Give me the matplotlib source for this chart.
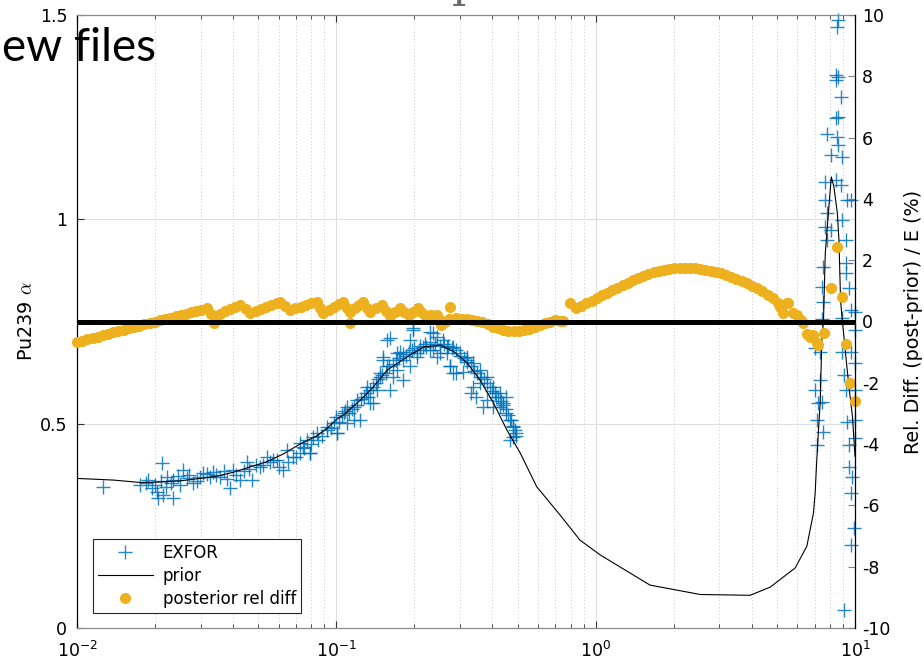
import matplotlib
matplotlib.use("Agg")
import matplotlib.pyplot as plt
from matplotlib.ticker import NullFormatter

plt.rcParams['font.family'] = ['DejaVu Sans']
plt.rcParams['axes.unicode_minus'] = False

# ---- EXFOR measurements of alpha (capture-to-fission ratio) ----
exfor_e = [
    0.0126, 0.0175, 0.0188, 0.0194, 0.0203, 0.0212, 0.0215, 0.0206, 0.0235, 0.0222,
    0.0235, 0.0257, 0.0265, 0.0281, 0.0298, 0.0316, 0.0336, 0.0356, 0.0389, 0.0400,
    0.0425, 0.0451, 0.0471, 0.0508, 0.0539, 0.0571, 0.0625, 0.0643, 0.0682, 0.0724,
    0.0768, 0.0791, 0.0839, 0.0920, 0.0976, 0.1005, 0.1066, 0.1098, 0.1165, 0.1236,
    0.1273, 0.135, 0.139, 0.147, 0.152, 0.157, 0.161, 0.171, 0.176, 0.181,
    0.192, 0.198, 0.204, 0.216, 0.229, 0.236, 0.244, 0.266, 0.275, 0.283,
    0.0185, 0.0200, 0.0210, 0.0220, 0.0230, 0.0245, 0.0250, 0.0270, 0.0290, 0.0305,
    0.0325, 0.0345, 0.0370, 0.0380, 0.0410, 0.0440, 0.0460, 0.0490, 0.0520, 0.0555,
    0.0590,
    0.161, 0.198, 0.229, 0.244, 0.192, 0.171, 0.152, 0.157, 0.147, 0.131,
    0.120, 0.110, 0.100, 0.092, 0.0815, 0.0747, 0.0724, 0.0791, 0.1005, 0.1165,
    0.135, 0.143, 0.166, 0.181, 0.204, 0.210, 0.236, 0.251, 0.266, 0.283,
    0.300, 0.318, 0.337, 0.358, 0.380, 0.403, 0.427, 0.440, 0.452, 0.466,
    0.479, 0.494, 0.479, 0.466, 0.275, 0.290, 0.307, 0.330, 0.345, 0.367,
    0.337, 0.414, 0.427, 0.452, 0.403, 0.380, 0.358, 0.318, 0.258, 0.222,
    0.0600, 0.0650, 0.0700, 0.0750, 0.0800, 0.0850, 0.0880, 0.0950, 0.1020, 0.1050,
    0.1080, 0.1120, 0.1150, 0.1200, 0.1250, 0.1300, 0.1330, 0.1380, 0.1420, 0.1450,
    0.1500, 0.1550, 0.1600, 0.1650, 0.1700, 0.1750, 0.1800, 0.1850, 0.1900, 0.1950,
    0.2000, 0.2100, 0.2200, 0.2300, 0.2400, 0.2500, 0.2600, 0.2700, 0.2800, 0.2900,
    0.3000, 0.3100, 0.3200, 0.3300, 0.3400, 0.3500, 0.3600, 0.3700, 0.3800, 0.3900,
    0.4000, 0.4100, 0.4200, 0.4300, 0.4400, 0.4500, 0.4600, 0.4700, 0.4800, 0.4900,
    0.4950,
    8.63, 8.55, 8.43, 8.43, 8.63, 8.80, 8.43, 8.63, 7.79, 8.55,
    8.63, 8.05, 8.93, 7.68, 8.43, 8.80, 9.34, 9.63, 7.68, 7.79,
    8.93, 7.68, 8.05, 7.79, 9.20, 7.56, 9.20, 9.20, 7.45, 9.48,
    7.56, 9.63, 9.96, 7.45, 8.93,
    10.04, 7.02, 7.34, 8.93, 9.63, 9.96, 7.34, 7.02, 9.06, 9.20,
    9.96, 7.23, 7.45, 7.12, 9.34, 10.0, 7.56, 7.12, 9.48, 10.0,
    9.48, 9.78, 9.63, 9.90, 9.63, 9.06,
]
exfor_alpha = [
    0.344, 0.350, 0.362, 0.342, 0.334, 0.403, 0.325, 0.317, 0.317, 0.370,
    0.362, 0.387, 0.366, 0.354, 0.370, 0.378, 0.382, 0.370, 0.342, 0.387,
    0.362, 0.407, 0.362, 0.395, 0.419, 0.411, 0.387, 0.436, 0.419, 0.452,
    0.460, 0.427, 0.476, 0.484, 0.501, 0.476, 0.525, 0.501, 0.541, 0.509,
    0.566, 0.582, 0.550, 0.615, 0.656, 0.705, 0.582, 0.631, 0.676, 0.607,
    0.640, 0.729, 0.672, 0.688, 0.680, 0.721, 0.664, 0.672, 0.640, 0.623,
    0.355, 0.350, 0.360, 0.345, 0.355, 0.372, 0.350, 0.375, 0.360, 0.380,
    0.370, 0.375, 0.385, 0.365, 0.375, 0.385, 0.390, 0.400, 0.400, 0.405,
    0.410,
    0.709, 0.733, 0.725, 0.713, 0.705, 0.672, 0.664, 0.640, 0.623, 0.590,
    0.558, 0.541, 0.517, 0.492, 0.468, 0.443, 0.427, 0.427, 0.476, 0.509,
    0.550, 0.582, 0.615, 0.656, 0.664, 0.680, 0.680, 0.672, 0.688, 0.688,
    0.672, 0.656, 0.648, 0.631, 0.615, 0.590, 0.574, 0.550, 0.525, 0.509,
    0.492, 0.476, 0.468, 0.460, 0.640, 0.623, 0.627, 0.574, 0.566, 0.541,
    0.590, 0.566, 0.541, 0.566, 0.541, 0.558, 0.599, 0.664, 0.705, 0.688,
    0.395, 0.405, 0.418, 0.440, 0.450, 0.460, 0.470, 0.490, 0.505, 0.520,
    0.530, 0.525, 0.535, 0.545, 0.560, 0.575, 0.565, 0.590, 0.600, 0.610,
    0.620, 0.625, 0.640, 0.645, 0.655, 0.660, 0.670, 0.665, 0.675, 0.680,
    0.685, 0.690, 0.695, 0.700, 0.695, 0.690, 0.695, 0.690, 0.685, 0.680,
    0.665, 0.660, 0.650, 0.640, 0.630, 0.625, 0.615, 0.610, 0.600, 0.590,
    0.580, 0.575, 0.565, 0.555, 0.545, 0.535, 0.520, 0.510, 0.495, 0.485,
    0.470,
    1.488, 1.471, 1.353, 1.341, 1.349, 1.300, 1.247, 1.251, 1.210, 1.202,
    1.182, 1.157, 1.153, 1.092, 1.096, 1.084, 1.047, 1.047, 1.047, 1.015,
    0.998, 0.982, 0.974, 0.949, 0.949, 0.884, 0.892, 0.868, 0.835, 0.831,
    0.798, 0.778, 0.774, 0.755, 0.758,
    0.729, 0.684, 0.676, 0.676, 0.676, 0.648, 0.607, 0.582, 0.619, 0.582,
    0.582, 0.550, 0.554, 0.509, 0.505, 0.509, 0.480, 0.448, 0.448, 0.464,
    0.395, 0.370, 0.330, 0.244, 0.203, 0.044,
]

# ---- prior evaluation ----
prior_e = [
    0.0100, 0.0138, 0.0176, 0.0205, 0.0250, 0.0298, 0.0350, 0.0400, 0.0470, 0.0540,
    0.0625, 0.0724, 0.0839, 0.0920, 0.1000, 0.1070, 0.1150, 0.1240, 0.1390, 0.1570,
    0.1880, 0.2180, 0.2520, 0.2840, 0.3200, 0.3580, 0.4040, 0.4550, 0.5120, 0.5920,
    0.7300, 0.8700, 1.040, 1.620, 2.530, 3.940, 4.710, 5.880, 6.520, 6.910,
    7.020, 7.120, 7.230, 7.340, 7.450, 7.560, 7.680, 8.100, 8.290, 8.550,
    8.670, 8.800, 8.930, 9.200, 9.480, 9.780, 10.00,
]
prior_alpha = [
    0.366, 0.362, 0.356, 0.357, 0.360, 0.366, 0.372, 0.381, 0.395, 0.407,
    0.426, 0.450, 0.470, 0.488, 0.510, 0.522, 0.540, 0.558, 0.590, 0.631,
    0.664, 0.688, 0.692, 0.676, 0.648, 0.607, 0.550, 0.484, 0.428, 0.346,
    0.276, 0.215, 0.179, 0.105, 0.082, 0.080, 0.100, 0.147, 0.200, 0.280,
    0.330, 0.410, 0.484, 0.550, 0.705, 0.754, 0.917, 1.104, 1.080, 1.015,
    0.950, 0.800, 0.754, 0.670, 0.590, 0.516, 0.420,
]

# ---- posterior relative difference (%) ----
post_e = [
    0.01000, 0.01047, 0.01096, 0.01148, 0.01202, 0.01259, 0.01318, 0.01380, 0.01445, 0.01514,
    0.01585, 0.01660, 0.01738, 0.01820, 0.01905, 0.01995, 0.02089, 0.02188, 0.02291, 0.02399,
    0.02512, 0.02630, 0.02754, 0.02884, 0.03020, 0.03162,
    0.0330, 0.0338, 0.0340, 0.0355, 0.0372, 0.0389, 0.0407, 0.0427,
    0.0447, 0.0466, 0.0488, 0.0512, 0.0537, 0.0562, 0.0589, 0.0609,
    0.0635, 0.0663, 0.0695, 0.0728, 0.0762, 0.0800, 0.0842,
    0.0865, 0.0890, 0.0933, 0.0977, 0.1020, 0.1060,
    0.1100, 0.1130, 0.1132, 0.1180, 0.1220, 0.1270,
    0.1310, 0.1350, 0.1420, 0.1500,
    0.1550, 0.1610, 0.1680, 0.1760,
    0.1830, 0.1900, 0.1980, 0.2070,
    0.2130, 0.2200, 0.2320, 0.2450,
    0.2500, 0.2540, 0.2620, 0.2720, 0.2750, 0.2900, 0.3050, 0.3200, 0.3350, 0.3500,
    0.3660, 0.3830, 0.4010, 0.4200, 0.4400, 0.4610, 0.4830, 0.5060, 0.5300, 0.5550,
    0.5810, 0.6080, 0.6370, 0.6670, 0.6980, 0.7310, 0.7500,
    0.7950, 0.8400, 0.8800, 0.9210, 0.9650, 1.010, 1.057, 1.107, 1.159, 1.213,
    1.270, 1.330, 1.393, 1.458, 1.527, 1.598, 1.674, 1.752, 1.835, 1.921,
    2.011, 2.106, 2.205, 2.308, 2.417, 2.531, 2.650, 2.774, 2.904, 3.041,
    3.184, 3.334, 3.490, 3.655, 3.827, 4.007, 4.195, 4.393, 4.599, 4.816,
    5.042, 5.130,
    5.280, 5.450, 5.510, 5.760, 6.000, 6.200, 6.330, 6.550, 6.710, 6.900,
    7.130, 7.230, 7.600, 8.050, 8.550, 8.930, 9.200, 9.600, 10.00,
]
post_reldiff = [
    -0.66, -0.62, -0.57, -0.53, -0.49, -0.44, -0.40, -0.35, -0.31, -0.27,
    -0.22, -0.18, -0.14, -0.09, -0.05, 0.00, 0.04, 0.08, 0.13, 0.17,
    0.21, 0.26, 0.30, 0.35, 0.39, 0.43,
    0.25, -0.05, 0.17, 0.24, 0.33, 0.41, 0.47, 0.54,
    0.40, 0.28, 0.33, 0.40, 0.47, 0.54, 0.60, 0.65,
    0.50, 0.38, 0.43, 0.48, 0.54, 0.59, 0.65,
    0.45, 0.27, 0.38, 0.48, 0.57, 0.65,
    0.45, 0.30, -0.05, 0.45, 0.55, 0.65,
    0.45, 0.32, 0.43, 0.54,
    0.33, 0.17, 0.30, 0.43,
    0.30, 0.21, 0.32, 0.43,
    0.30, 0.21, 0.22, 0.21,
    0.05, -0.10, 0.00, 0.08, 0.48, 0.10, 0.09, 0.08, 0.06, 0.02,
    -0.02, -0.09, -0.17, -0.22, -0.27, -0.30, -0.31, -0.30, -0.28, -0.23,
    -0.18, -0.12, -0.06, 0.00, 0.04, 0.03, 0.01,
    0.59, 0.43, 0.51, 0.60, 0.68, 0.76, 0.85, 0.93, 1.02, 1.10,
    1.19, 1.27, 1.35, 1.43, 1.50, 1.56, 1.61, 1.65, 1.69, 1.72,
    1.74, 1.75, 1.75, 1.74, 1.73, 1.71, 1.69, 1.66, 1.62, 1.57,
    1.52, 1.46, 1.40, 1.33, 1.25, 1.17, 1.08, 0.98, 0.88, 0.76,
    0.60, 0.48,
    0.27, 0.59, 0.59, 0.27, 0.21, 0.05, -0.06, -0.40, -0.50, -0.44,
    -0.71, -0.77, -0.38, 1.08, 2.44, 0.81, -0.73, -2.00, -2.58,
]

left_ticks = [0, 0.5, 1, 1.5]
left_ticklabels = ['0', '0.5', '1', '1.5']
right_ticks = [-10, -8, -6, -4, -2, 0, 2, 4, 6, 8, 10]
legend_labels = ['EXFOR', 'prior', 'posterior rel diff']

W, H = 924, 665
fig = plt.figure(figsize=(W / 100, H / 100), dpi=100)
ax = fig.add_axes([77 / W, 37 / H, 778 / W, 613 / H])
ax2 = ax.twinx()

# left axis: alpha
ax.set_xscale('log')
ax.set_xlim(0.01, 10)
ax.set_ylim(0, 1.5)
ax.set_yticks(left_ticks)
ax.set_yticklabels(left_ticklabels)
ax.xaxis.set_minor_formatter(NullFormatter())
ax.set_axisbelow(True)
ax.grid(True, which='major', color='#dedede', lw=0.8)
ax.grid(True, which='minor', axis='x', color='#c8c8c8', lw=0.7, ls=(0, (1, 2.5)))

h_exfor, = ax.plot(exfor_e, exfor_alpha, '+', color='#0072BD', ms=9.5, mew=1.0,
                   alpha=0.85, clip_on=False, zorder=2)
h_prior, = ax.plot(prior_e, prior_alpha, '-', color='k', lw=0.8, zorder=3)

# right axis: relative difference
ax2.set_ylim(-10, 10)
ax2.set_yticks(right_ticks)
h_post, = ax2.plot(post_e, post_reldiff, 'o', color='#EDB120', ms=8, mec='none',
                   clip_on=False, zorder=2)
ax2.axhline(0, color='k', lw=3.6, zorder=3)

# axes styling
for side in ('top', 'bottom'):
    ax.spines[side].set_color('#8c8c8c')
    ax.spines[side].set_linewidth(0.9)
ax.spines['left'].set_color('k')
ax.spines['left'].set_linewidth(0.9)
ax.spines['right'].set_visible(False)
for side in ('top', 'bottom', 'left'):
    ax2.spines[side].set_visible(False)
ax2.spines['right'].set_color('k')
ax2.spines['right'].set_linewidth(0.9)

ax.tick_params(axis='x', which='both', direction='in', top=True, color='#333333',
               labelsize=12.5, pad=9)
ax.tick_params(axis='x', which='major', length=5)
ax.tick_params(axis='x', which='minor', length=3)
ax.tick_params(axis='y', direction='in', length=5, color='#333333', labelsize=12.5, pad=7)
ax2.tick_params(axis='y', direction='in', length=5, color='#808080', labelsize=12.5, pad=5)

ax.set_ylabel('Pu239 $\\alpha$', fontsize=13.8, math_fontfamily='cm', labelpad=3)
ax2.set_ylabel('Rel. Diff. (post-prior) / E (%)', fontsize=13.8, labelpad=10)

leg = ax2.legend([h_exfor, h_prior, h_post], legend_labels,
                 loc='lower left', bbox_to_anchor=(92.7 / W, 52.3 / H),
                 bbox_transform=fig.transFigure, borderaxespad=0,
                 fancybox=False, framealpha=1, edgecolor='#262626',
                 fontsize=12, handlelength=3.3, handletextpad=0.6,
                 labelspacing=0.3, borderpad=0.3)
leg.get_frame().set_linewidth(0.8)

# slide text showing around the figure
fig.text(2 / W, 1 - 61 / H, 'ew files', fontsize=33, family='Lato',
         ha='left', va='baseline', color='k', zorder=10)
fig.text(459 / W, 1 - 6 / H, 'I', fontsize=30, family='DejaVu Serif',
         ha='center', va='baseline', color='#6e6e6e', zorder=10)

fig.savefig('out.png', dpi=100)
